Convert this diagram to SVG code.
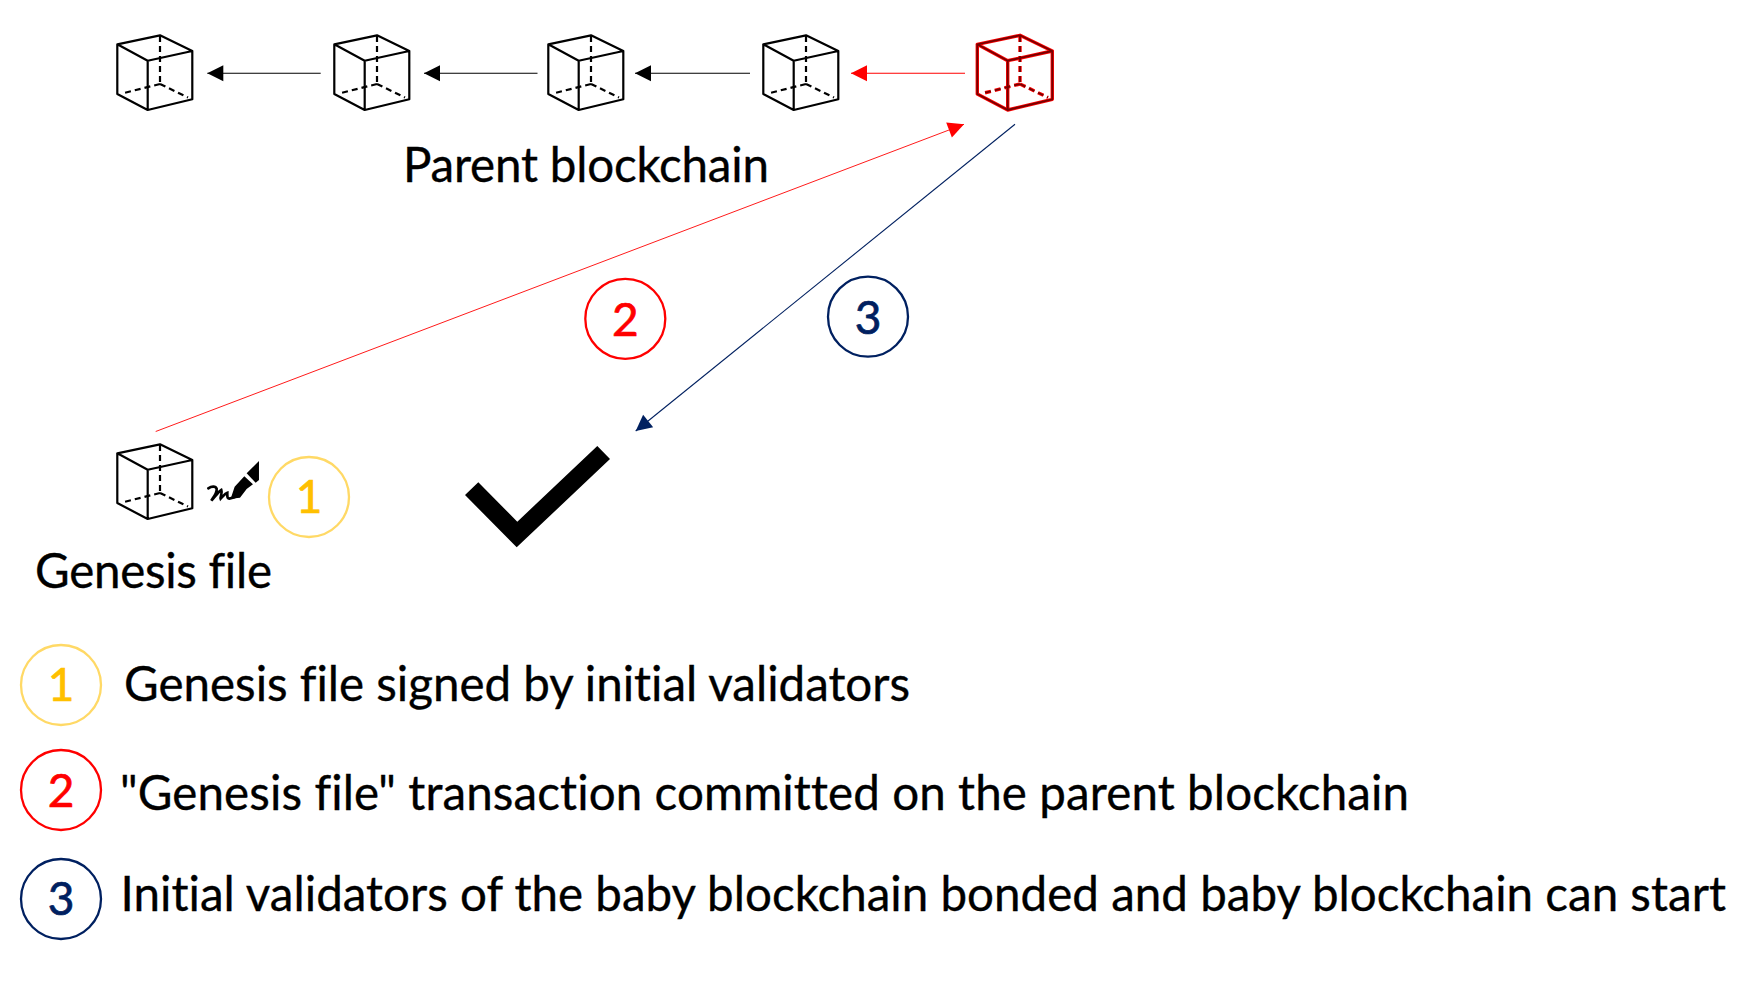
<svg xmlns="http://www.w3.org/2000/svg" width="1744" height="988" viewBox="0 0 1744 988">
<style>
text{font-family:"Lato","Carlito","Open Sans",sans-serif;fill:#000;font-size:47.500px;font-variant-ligatures:none;stroke:#000;stroke-width:.35}
.d{font-size:46px;text-anchor:middle;stroke-width:.7}
.c{fill:#fff;stroke-width:2.300}
.y{stroke:#FFD966}.r{stroke:#F00}.b{stroke:#002060}
text.ty{fill:#FFC000;stroke:#FFC000}text.tr{fill:#F00;stroke:#F00}text.tb{fill:#002060;stroke:#002060}
.cube{fill:none;stroke:#000;stroke-width:2.200;stroke-linejoin:round}
.cube-red{stroke:#F00;stroke-width:3.400}
.core{stroke:#700;stroke-width:1.800}
.k{stroke:#000}.rl{stroke:#F00}.bl{stroke:#002060}
line{stroke-width:1.100;fill:none}
</style>
<defs>
<g id="cube-shape">
<path d="M117.300 44.300L160 35.300L192.300 51L147.700 60.700ZM117.300 44.300V94L147.700 110L192.300 99.300V51M147.700 60.700V110"/>
<path stroke-dasharray="6 4" d="M160 36V84M160 84L122 93.500M160 84L188 97.500"/>
</g>
<marker id="ah-k" markerUnits="userSpaceOnUse" markerWidth="18" markerHeight="18" refX="17" refY="9" orient="auto"><path d="M1 1L17 9L1 17Z" fill="#000"/></marker>
<marker id="ah-r" markerUnits="userSpaceOnUse" markerWidth="18" markerHeight="18" refX="17" refY="9" orient="auto"><path d="M1 1L17 9L1 17Z" fill="#F00"/></marker>
<marker id="ah-b" markerUnits="userSpaceOnUse" markerWidth="18" markerHeight="18" refX="17" refY="9" orient="auto"><path d="M1 1L17 9L1 17Z" fill="#002060"/></marker>
</defs>
<rect width="1744" height="988" fill="#fff"/>
<g id="connectors">
<line class="k" x1="320.700" y1="73.300" x2="207.300" y2="73.300" marker-end="url(#ah-k)"/>
<line class="k" x1="537.500" y1="73.300" x2="424" y2="73.300" marker-end="url(#ah-k)"/>
<line class="k" x1="750" y1="73.300" x2="635" y2="73.300" marker-end="url(#ah-k)"/>
<line class="rl" x1="965" y1="73.300" x2="851" y2="73.300" marker-end="url(#ah-r)"/>
<line class="rl" style="stroke-width:.9" x1="155.700" y1="431.500" x2="964" y2="124.300" marker-end="url(#ah-r)"/>
<line class="bl" x1="1015" y1="124.300" x2="635.700" y2="431" marker-end="url(#ah-b)"/>
</g>
<g id="block1"><use href="#cube-shape" class="cube"/></g>
<g id="block2"><use href="#cube-shape" class="cube" x="217"/></g>
<g id="block3"><use href="#cube-shape" class="cube" x="431"/></g>
<g id="block4"><use href="#cube-shape" class="cube" x="646"/></g>
<g id="block5"><use href="#cube-shape" class="cube cube-red" x="860"/><use href="#cube-shape" class="cube core" x="860"/></g>
<g id="parent-label"><text x="403" y="182" textLength="366">Parent blockchain</text></g>
<g id="genesis-block"><use href="#cube-shape" class="cube" y="409"/></g>
<g id="signature" transform="translate(100 430) scale(.3333)">
<path d="M477 93L440 130L467 158L477 150Z" fill="#000"/>
<path d="M433 139L459 163L440 177L420 203L392 206L404 170Z" fill="#000"/>
<path d="M325 175C335 168 347 168 350 176C352 188 338 205 334 212C345 200 355 185 364 180C368 190 360 200 362 206C370 198 375 190 382 188C382 197 380 205 388 206L404 202" fill="none" stroke="#000" stroke-width="8" stroke-linecap="round"/>
</g>
<g id="genesis-label"><text x="35" y="588" textLength="237">Genesis file</text></g>
<g id="check"><path d="M465 495L478.300 482.300L517.300 521.700L597.300 446L610 459L516.700 547.300Z" fill="#000"/></g>
<g id="step1-top"><circle class="c y" cx="309" cy="497" r="40"/><text class="d ty" x="309" y="513">1</text></g>
<g id="step2-top"><circle class="c r" cx="625.300" cy="318.800" r="40"/><text class="d tr" x="625.300" y="335.500">2</text></g>
<g id="step3-top"><circle class="c b" cx="868" cy="316.700" r="40"/><text class="d tb" x="868" y="333.500">3</text></g>
<g id="legend1"><circle class="c y" cx="61" cy="685" r="40"/><text class="d ty" x="61" y="701">1</text><text x="124" y="700.500" textLength="786">Genesis file signed by initial validators</text></g>
<g id="legend2"><circle class="c r" cx="61" cy="790" r="40"/><text class="d tr" x="61" y="806.500">2</text><text x="120" y="810" textLength="1289">"Genesis file" transaction committed on the parent blockchain</text></g>
<g id="legend3"><circle class="c b" cx="61" cy="899" r="40"/><text class="d tb" x="61" y="915">3</text><text x="120.500" y="911" textLength="1605.500">Initial validators of the baby blockchain bonded and baby blockchain can start</text></g>
</svg>
